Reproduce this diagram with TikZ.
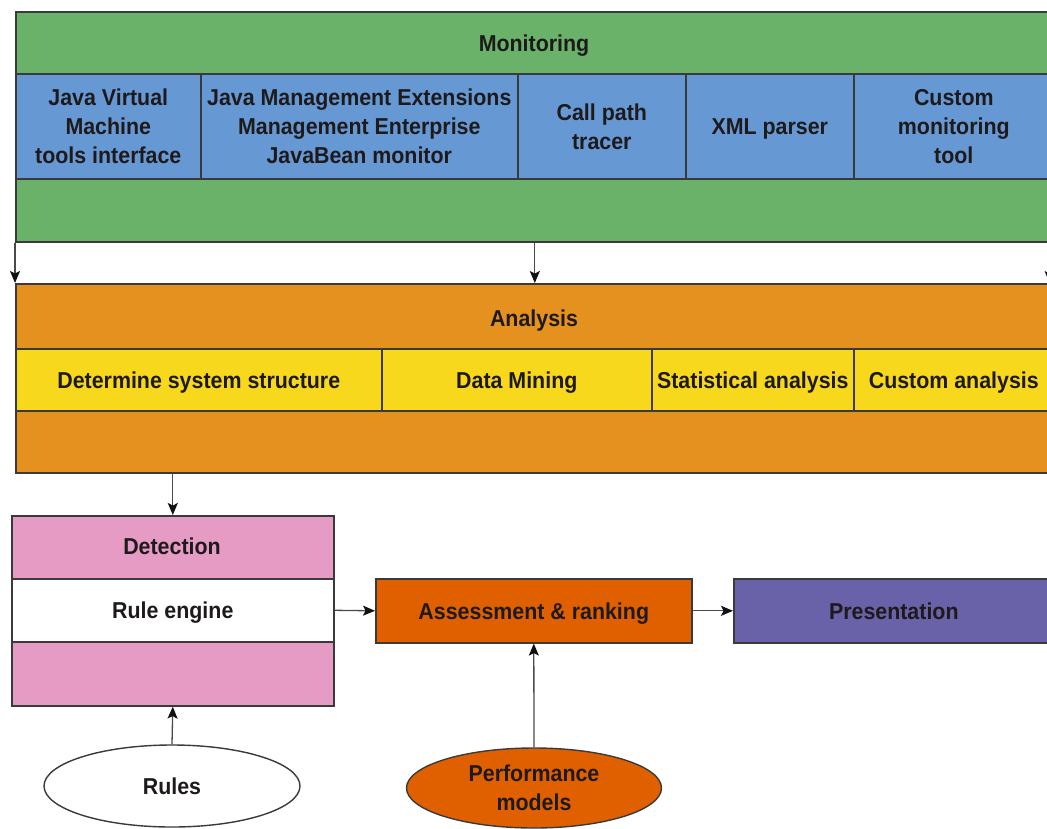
\documentclass[tikz,border=0pt]{standalone}
\usepackage{fontspec}
\setmainfont{Liberation Sans}[FakeStretch=0.93]
\usetikzlibrary{arrows.meta,shapes.geometric,calc}
\definecolor{mgreen}{HTML}{6AB26A}
\definecolor{mblue}{HTML}{6699D4}
\definecolor{aorange}{HTML}{E5911F}
\definecolor{ayellow}{HTML}{F8D81C}
\definecolor{dpink}{HTML}{E69BC4}
\definecolor{asorange}{HTML}{E06000}
\definecolor{ppurple}{HTML}{6A62A8}
\definecolor{bordc}{HTML}{3A3A3A}
\definecolor{linec}{HTML}{4A4A4A}
\definecolor{tipc}{HTML}{111111}
\definecolor{txt}{HTML}{1E1A1C}
\newcommand{\lblfont}{\fontsize{23}{29}\selectfont\bfseries}
\begin{document}
\begin{tikzpicture}[x=1pt,y=-1pt,
  box/.style={draw=bordc,line width=1.6pt,inner sep=0pt,anchor=north west,align=center,font=\lblfont,text=txt},
  one/.style={text height=17pt,text depth=0pt},
  lbl/.style={font=\lblfont,text=txt,align=center,inner sep=0pt},
  oval/.style={ellipse,draw=bordc,line width=1.4pt,inner sep=0pt,align=center,font=\lblfont,text=txt},
  arr/.style={draw=linec,line width=1.3pt,-{Stealth[length=12pt,width=10pt,inset=2.5pt,color=tipc]}}]
\useasboundingbox (0,0) rectangle (1047,828);
\clip (0,0) rectangle (1047,828);

% Monitoring
\node[box,fill=mgreen,minimum width=1038pt,minimum height=230pt] (mon) at (15,11) {};
\node[lbl,one] (monT) at (534,43) {Monitoring};
\node[box,fill=mblue,minimum width=185pt,minimum height=105pt] (c1) at (15,73) {Java Virtual\\Machine\\tools interface};
\node[box,fill=mblue,minimum width=317pt,minimum height=105pt] (c2) at (200,73) {Java Management Extensions\\Management Enterprise\\JavaBean monitor};
\node[box,fill=mblue,minimum width=168pt,minimum height=105pt] (c3) at (517,73) {Call path\\tracer};
\node[box,fill=mblue,minimum width=168pt,minimum height=105pt,one] (c4) at (685,73) {XML parser};
\node[box,fill=mblue,minimum width=200pt,minimum height=105pt] (c5) at (853,73) {Custom\\monitoring\\tool};

% Analysis
\node[box,fill=aorange,minimum width=1038pt,minimum height=189pt] (ana) at (15,283) {};
\node[lbl,one] (anaT) at (534,318) {Analysis};
\node[box,fill=ayellow,minimum width=366pt,minimum height=62pt,one] (d1) at (15,348) {Determine system structure};
\node[box,fill=ayellow,minimum width=270pt,minimum height=62pt,one] (d2) at (381,348) {Data Mining};
\node[box,fill=ayellow,minimum width=202pt,minimum height=62pt,one] (d3) at (651,348) {Statistical analysis};
\node[box,fill=ayellow,minimum width=200pt,minimum height=62pt,one] (d4) at (853,348) {Custom analysis};

% Detection
\node[box,fill=dpink,minimum width=322pt,minimum height=190pt] (det) at (11,515) {};
\node[lbl,one] (detT) at (172,546) {Detection};
\node[box,fill=white,minimum width=322pt,minimum height=63pt,one] (re) at (11,578) {Rule engine};

% Assessment, Presentation
\node[box,fill=asorange,minimum width=316pt,minimum height=64pt,one] (ass) at (375,578) {Assessment \& ranking};
\node[box,fill=ppurple,minimum width=320pt,minimum height=64pt,one] (pres) at (733,578) {Presentation};

% Ovals
\node[oval,fill=white,minimum width=256pt,minimum height=82pt,one] (rules) at (172,786) {Rules};
\node[oval,fill=asorange,minimum width=255pt,minimum height=80pt] (perf) at (534,788) {Performance\\models};

% Arrows
\draw[arr] (mon.south west) -- (ana.north west);
\draw[arr] (mon.south) -- (ana.north);
\draw[arr] ($(mon.south east)+(-5,0)$) -- ($(ana.north east)+(-5,0)$);
\draw[arr] (ana.south -| det.north) -- (det.north);
\draw[arr] (rules.north) -- (det.south);
\draw[arr] (re.east) -- (ass.west);
\draw[arr] (ass.east) -- (pres.west);
\draw[arr] (perf.north) -- (ass.south);
\end{tikzpicture}
\end{document}
